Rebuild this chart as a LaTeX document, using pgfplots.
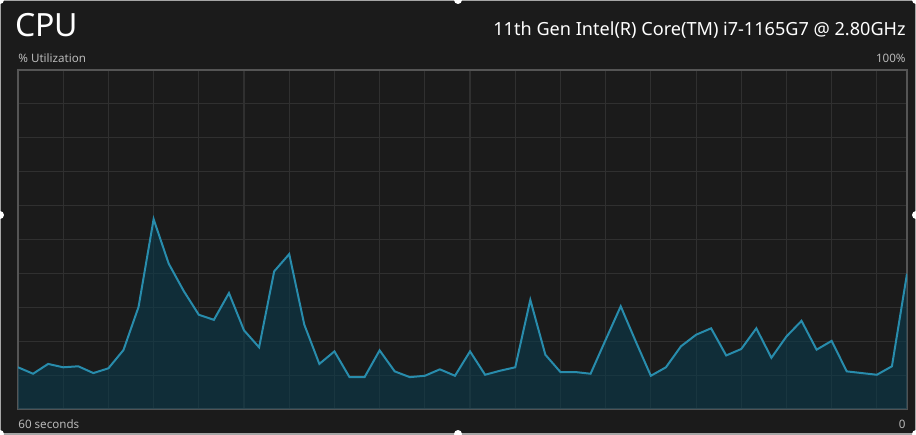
\documentclass[border=0pt]{standalone}
\usepackage{fontspec}
\setmainfont{Noto Sans}
\usepackage{pgfplots}
\pgfplotsset{compat=1.18}

\definecolor{bgc}{RGB}{27,27,27}
\definecolor{gridc}{RGB}{48,48,48}
\definecolor{framec}{RGB}{85,85,85}
\definecolor{linec}{RGB}{40,140,172}
\definecolor{fillc}{RGB}{10,58,76}
\definecolor{labc}{RGB}{185,185,185}

% CPU utilisation, one sample per second (oldest first)
\pgfplotstableread{
t  u
0  12.3
1  10.4
2  13.3
3  12.3
4  12.6
5  10.6
6  12.0
7  17.4
8  30.1
9  56.0
10 42.9
11 34.8
12 27.8
13 26.3
14 34.2
15 23.2
16 18.2
17 40.6
18 45.7
19 24.9
20 13.3
21 17.0
22 9.4
23 9.4
24 17.3
25 11.1
26 9.4
27 9.8
28 11.7
29 9.8
30 17.0
31 10.1
32 11.3
33 12.3
34 32.2
35 16.0
36 10.9
37 10.9
38 10.4
39 20.4
40 30.3
41 19.9
42 9.8
43 12.3
44 18.5
45 21.9
46 23.8
47 15.8
48 17.7
49 23.8
50 15.1
51 21.4
52 26.0
53 17.5
54 20.1
55 11.1
56 10.6
57 10.1
58 12.6
59 39.9
}\cpudata

\begin{document}
\begin{tikzpicture}[x=0.5pt,y=0.5pt]
% canvas: 916 x 434 px, origin at plot's lower left (px 18,409)
\clip (-18,-25) rectangle (898,409);
\fill[bgc] (-18,-25) rectangle (898,409);
\draw[gray!70,line width=0.6pt] (-18,-25) rectangle (898,409);

\begin{axis}[
    at={(0,0)}, anchor=south west,
    scale only axis,
    width=444.5pt, height=169.5pt,
    xmin=0, xmax=59, ymin=0, ymax=100,
    xtick={0,3,...,57}, ytick={0,10,...,100},
    xticklabels={}, yticklabels={},
    major tick length=0pt,
    grid=major,
    grid style={gridc, line width=0.55pt},
    axis line style={framec, line width=0.8pt},
]
\addplot[draw=none, fill=fillc, fill opacity=0.6] table[x=t,y=u] {\cpudata} \closedcycle;
\addplot[linec, line width=1pt] table[x=t,y=u] {\cpudata};
\end{axis}

\node[anchor=base west, white, inner sep=0pt, font=\fontsize{16}{18}\selectfont] at (-3,372) {CPU};
\node[anchor=base east, white, inner sep=0pt, font=\fontsize{9.05}{11}\selectfont] at (888,373) {11th Gen Intel(R) Core(TM) i7-1165G7 @ 2.80GHz};
\node[anchor=base west, labc, inner sep=0pt, font=\fontsize{5.8}{7}\selectfont] at (0,346) {\% Utilization};
\node[anchor=base east, labc, inner sep=0pt, font=\fontsize{5.8}{7}\selectfont] at (888,346) {100\%};
\node[anchor=base west, labc, inner sep=0pt, font=\fontsize{5.8}{7}\selectfont] at (0,-19) {60 seconds};
\node[anchor=base east, labc, inner sep=0pt, font=\fontsize{5.8}{7}\selectfont] at (888,-19) {0};

% selection handles
\foreach \hx/\hy in {-18/-25, 440/-25, 898/-25, -18/194, 898/194, -18/409, 440/409, 898/409}
  \fill[white] (\hx,\hy) circle (4);
\end{tikzpicture}
\end{document}
